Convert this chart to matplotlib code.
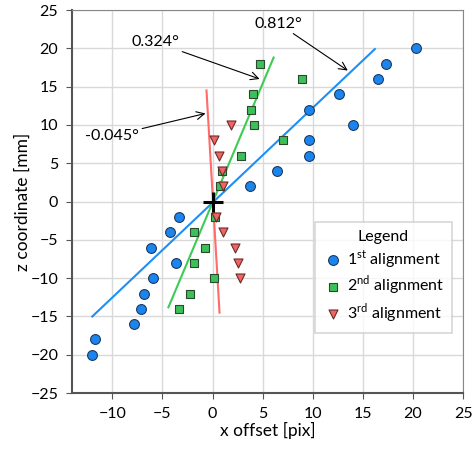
import matplotlib
matplotlib.use("Agg")
import matplotlib.pyplot as plt

plt.rcParams['font.family'] = ['Lato', 'DejaVu Sans']

# 1st alignment
x1 = [20.3, 17.3, 16.5, 12.6, 9.6, 14.0, 9.6, 9.6, 6.4, 3.7, -3.3, -4.2, -6.1, -3.6, -5.9, -6.8, -7.1, -7.8, -11.7, -12.0]
z1 = [20, 18, 16, 14, 12, 10, 8, 6, 4, 2, -2, -4, -6, -8, -10, -12, -14, -16, -18, -20]
# 2nd alignment
x2 = [4.7, 8.9, 4.0, 3.8, 4.1, 7.0, 2.8, 0.9, 0.7, 0.2, -1.8, -0.7, -1.8, 0.1, -2.2, -3.3]
z2 = [18, 16, 14, 12, 10, 8, 6, 4, 2, -2, -4, -6, -8, -10, -12, -14]
# 3rd alignment
x3 = [1.8, 0.1, 0.6, 0.9, 1.0, 0.3, 1.0, 2.2, 2.5, 2.7]
z3 = [10, 8, 6, 4, 2, -2, -4, -6, -8, -10]

# fit lines (endpoints)
l1x = [-12.0, 16.2]; l1z = [-15.0, 19.9]
l2x = [-4.4, 6.1];  l2z = [-13.8, 18.8]
l3x = [-0.6, 0.7];  l3z = [14.5, -14.5]

labels = ['1$^{\\mathregular{st}}$ alignment', '2$^{\\mathregular{nd}}$ alignment', '3$^{\\mathregular{rd}}$ alignment']
angles = ['0.812°', '0.324°', '-0.045°']
arrow_tips = [(13.5, 17.1), (4.7, 16.0), (-0.7, 11.5)]
arrow_tails = [(9.0, 23.2), (-3.3, 20.8), (-7.3, 8.6)]

xticks = [-10, -5, 0, 5, 10, 15, 20, 25]
yticks = list(range(-25, 26, 5))

fig = plt.figure(figsize=(4.72, 4.55), dpi=100)
ax = fig.add_axes([0.153, 0.136, 0.828, 0.842])

blue = '#1a85f0'; green = '#3cc05a'; red = '#f26464'
ax.plot(l1x, l1z, color='#1e8ff5', lw=1.5, zorder=2)
ax.plot(l2x, l2z, color='#3ccc55', lw=1.5, zorder=2)
ax.plot(l3x, l3z, color='#ff6a6a', lw=1.5, zorder=2)

ax.scatter(x1, z1, s=50, marker='o', facecolor=blue, edgecolor='#1f3a5a', lw=0.8, zorder=3, label=labels[0])
ax.scatter(x2, z2, s=32, marker='s', facecolor=green, edgecolor='#2a4a30', lw=0.8, zorder=3, label=labels[1])
ax.scatter(x3, z3, s=42, marker='v', facecolor=red, edgecolor='#6a2a2a', lw=0.8, zorder=3, label=labels[2])

ax.plot([0], [0], marker='+', color='black', ms=14, mew=2.2, zorder=4)

for t, tip, tail in zip(angles, arrow_tips, arrow_tails):
    ax.annotate(t, xy=tip, xytext=tail, fontsize=11.5, ha='right', va='center',
                arrowprops=dict(arrowstyle='->', color='black', lw=0.8, mutation_scale=14,
                                shrinkA=0, shrinkB=0), zorder=5)

ax.set_xlim(-14, 25)
ax.set_ylim(-25, 25)
ax.set_xticks(xticks)
ax.set_yticks(yticks)
ax.grid(True, color='#d9d9d9', lw=1.0)
ax.set_axisbelow(True)
for s in ['top', 'right']:
    ax.spines[s].set_color('#888888')
for s in ['left', 'bottom']:
    ax.spines[s].set_color('#555555')
    ax.spines[s].set_linewidth(1.5)
ax.tick_params(direction='out', length=4, color='#555555', labelsize=11.5, pad=6)
ax.set_xlabel('x offset [pix]', fontsize=12.5, labelpad=1)
ax.set_ylabel('z coordinate [mm]', fontsize=12.5, labelpad=0)

leg = ax.legend(title='Legend', loc='lower right', bbox_to_anchor=(0.972, 0.157), fontsize=11.5,
                title_fontsize=11.5, frameon=True, fancybox=False, edgecolor='#cccccc',
                handletextpad=0.2, borderpad=0.5, labelspacing=0.25, handlelength=1.3,
                borderaxespad=0)
leg.get_frame().set_linewidth(1.2)

fig.savefig('out.png', dpi=100)
